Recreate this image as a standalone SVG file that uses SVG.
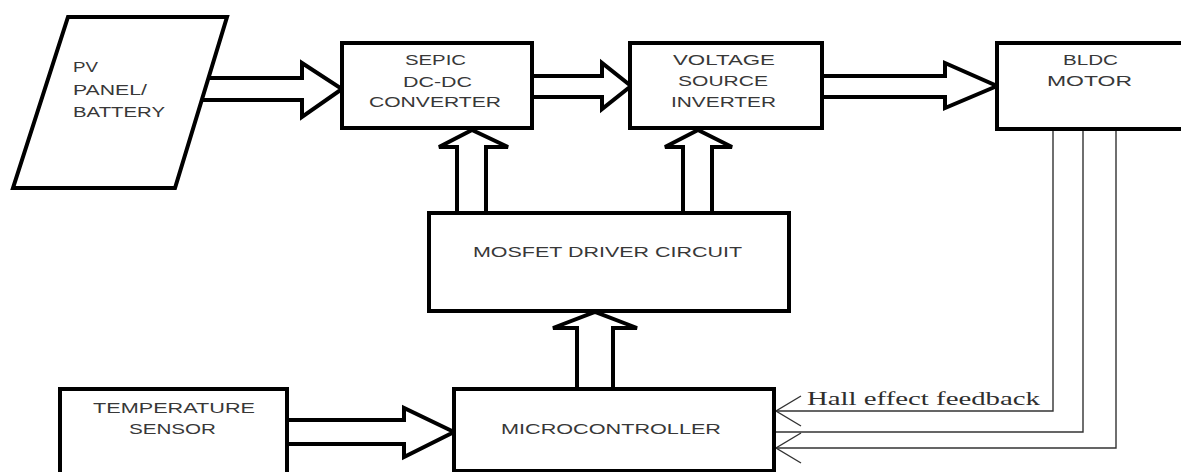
<svg xmlns="http://www.w3.org/2000/svg" width="1181" height="472" viewBox="0 0 1181 472">
<defs>
<style>
.box{fill:#fff;stroke:#000;stroke-width:4}
.arr{fill:#fff;stroke:#000;stroke-width:4;stroke-linejoin:miter}
.lbl{font-family:"Liberation Sans",Arial,sans-serif;font-size:15.5px;fill:#383838}
.fb{fill:none;stroke:#333;stroke-width:1.4}
.hall{font-family:"Liberation Serif","Times New Roman",serif;font-size:19px;fill:#2e2e2e}
</style>
<marker id="vhead" markerUnits="userSpaceOnUse" markerWidth="30" markerHeight="36" viewBox="-28 -18 30 36" refX="0" refY="0" orient="auto">
<path d="M -25 -15 L 0 0 L -25 15" fill="none" stroke="#333" stroke-width="1.4"/>
</marker>
</defs>
<rect width="1181" height="472" fill="#fff"/>

<g id="connectors">
<polyline class="arr" points="208,78 302,78 302,63 342,89 302,117 302,100 201,100"/>
<polyline class="arr" points="532,76 602,76 602,63 631,86 602,109 602,97 532,97"/>
<polyline class="arr" points="822,76 945,76 945,63 997,86 945,108 945,97 822,97"/>
<polyline class="arr" points="457,213 457,147 439,147 472,130 508,147 486,147 486,213"/>
<polyline class="arr" points="683,213 683,147 665,147 698,130 732,147 712,147 712,213"/>
<polyline class="arr" points="577,389 577,328 553,328 595,312 637,328 613,328 613,389"/>
<polyline class="arr" points="287,420 404,420 404,408 454,432 404,457 404,444 287,444"/>
<path class="fb" d="M 1053 128 V 411 H 776" marker-end="url(#vhead)"/>
<path class="fb" d="M 1083 128 V 432 H 776"/>
<path class="fb" d="M 1116 128 V 448 H 776" marker-end="url(#vhead)"/>
<text class="hall" x="807" y="405" textLength="233" lengthAdjust="spacingAndGlyphs">Hall effect feedback</text>
</g>

<g id="pv">
<polygon class="box" points="68,17 227,17 175,188 13,188"/>
<text class="lbl" x="73" y="72" textLength="25" lengthAdjust="spacingAndGlyphs">PV</text>
<text class="lbl" x="73" y="95" textLength="74" lengthAdjust="spacingAndGlyphs">PANEL/</text>
<text class="lbl" x="73" y="117" textLength="92" lengthAdjust="spacingAndGlyphs">BATTERY</text>
</g>

<g id="sepic">
<rect class="box" x="342" y="43" width="190" height="85"/>
<text class="lbl" x="405" y="65" textLength="61" lengthAdjust="spacingAndGlyphs">SEPIC</text>
<text class="lbl" x="403" y="87" textLength="69" lengthAdjust="spacingAndGlyphs">DC-DC</text>
<text class="lbl" x="369" y="107" textLength="132" lengthAdjust="spacingAndGlyphs">CONVERTER</text>
</g>

<g id="vsi">
<rect class="box" x="630" y="43" width="192" height="85"/>
<text class="lbl" x="673" y="65" textLength="102" lengthAdjust="spacingAndGlyphs">VOLTAGE</text>
<text class="lbl" x="678" y="86" textLength="90" lengthAdjust="spacingAndGlyphs">SOURCE</text>
<text class="lbl" x="671" y="107" textLength="105" lengthAdjust="spacingAndGlyphs">INVERTER</text>
</g>

<g id="bldc">
<rect class="box" x="997" y="43" width="190" height="86"/>
<text class="lbl" x="1063" y="65" textLength="55" lengthAdjust="spacingAndGlyphs">BLDC</text>
<text class="lbl" x="1047" y="86" textLength="85" lengthAdjust="spacingAndGlyphs">MOTOR</text>
</g>

<g id="mosfet">
<rect class="box" x="429" y="213" width="360" height="98"/>
<text class="lbl" x="473" y="257" textLength="269" lengthAdjust="spacingAndGlyphs">MOSFET DRIVER CIRCUIT</text>
</g>

<g id="temperature">
<rect class="box" x="60" y="389" width="227" height="90"/>
<text class="lbl" x="93" y="413" textLength="162" lengthAdjust="spacingAndGlyphs">TEMPERATURE</text>
<text class="lbl" x="129" y="434" textLength="87" lengthAdjust="spacingAndGlyphs">SENSOR</text>
</g>

<g id="microcontroller">
<rect class="box" x="454" y="389" width="320" height="82"/>
<text class="lbl" x="501" y="434" textLength="220" lengthAdjust="spacingAndGlyphs">MICROCONTROLLER</text>
</g>
</svg>
